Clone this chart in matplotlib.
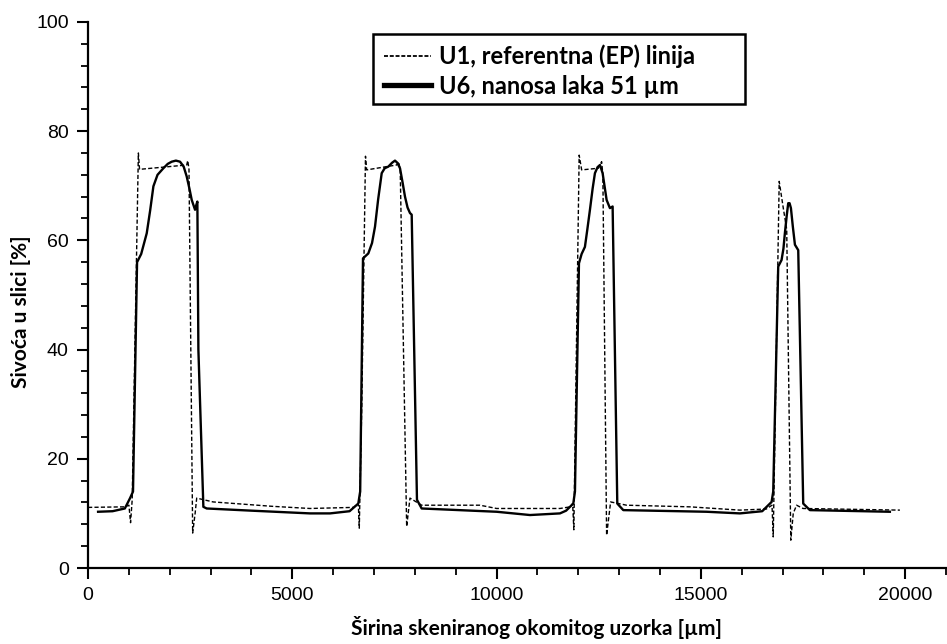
import matplotlib
matplotlib.use("Agg")
import matplotlib.pyplot as plt
from matplotlib.lines import Line2D
from matplotlib.patches import Rectangle
from matplotlib.ticker import MultipleLocator

# U1, referentna (EP) linija  (dashed)
x_u1 = [0, 900, 1000, 1040, 1080, 1231, 1260, 2414, 2440, 2470, 2560, 2620, 2659, 3059,
        4500, 5432, 6500, 6614, 6638, 6700, 6790, 6819, 7553, 7600, 7640, 7798, 7879, 8165,
        9592, 10000, 11550, 11800, 11860, 11890, 12020, 12081, 12488, 12570, 12600, 12692,
        12790, 13180, 14731, 15954, 16600, 16740, 16770, 16916, 17014, 17100, 17200, 17260,
        17341, 17500, 19870]
y_u1 = [11.1, 11.2, 11.5, 8.3, 12.5, 76.0, 73.0, 73.8, 74.6, 73.0, 6.4, 10.0, 12.8, 12.1,
        11.3, 10.9, 11.1, 11.8, 7.3, 30.0, 75.4, 72.9, 73.8, 74.4, 73.0, 7.6, 12.8, 11.5,
        11.5, 10.9, 10.9, 11.2, 11.8, 7.0, 75.6, 72.9, 73.2, 74.4, 72.0, 6.0,
        12.1, 11.5, 11.2, 10.6, 10.8, 11.5, 5.7, 70.8, 66.0, 62.0, 5.1, 10.0,
        11.5, 10.9, 10.6]

# U6, nanosa laka 51 um  (solid)
x_u6 = [245, 600, 900, 1028, 1100, 1199, 1300, 1436, 1520, 1599, 1700, 1843, 1950, 2047,
        2150, 2251, 2340, 2414, 2480, 2537, 2618, 2650, 2675, 2700, 2822, 2904, 4000, 5432,
        5922, 6400, 6614, 6660, 6729, 6859, 6950, 7023, 7100, 7187, 7260, 7349, 7440, 7512,
        7570, 7635, 7700, 7757, 7820, 7879, 7921, 8050, 8165, 10000, 10816, 11550, 11700,
        11876, 11917, 12015, 12080, 12161, 12220, 12284, 12350, 12406, 12470, 12529, 12594,
        12640, 12692, 12773, 12839, 12953, 13100, 15139, 15954, 16500, 16730, 16770, 16892,
        16974, 17020, 17055, 17100, 17137, 17170, 17203, 17250, 17301, 17382, 17504, 17667,
        19625]
y_u6 = [10.3, 10.4, 10.9, 12.8, 14.0, 56.0, 57.5, 61.3, 65.5, 69.9, 72.0, 73.2, 74.0, 74.4,
        74.6, 74.4, 73.5, 71.7, 69.5, 67.4, 65.6, 66.5, 67.1, 40.0, 11.2, 10.9, 10.5, 10.0,
        10.0, 10.4, 11.8, 14.0, 56.7, 57.6, 59.5, 62.5, 67.5, 72.3, 73.2, 73.5, 74.2, 74.6,
        74.2, 73.2, 70.5, 68.0, 66.0, 65.0, 64.7, 12.5, 10.9, 10.3, 9.7, 10.0, 10.5,
        11.8, 14.0, 55.8, 57.5, 58.8, 62.0, 65.6, 69.5, 72.3, 73.4, 73.8, 72.3,
        70.0, 67.4, 65.9, 66.2, 11.8, 10.6, 10.3, 10.0, 10.4, 12.1, 14.0, 55.2,
        56.4, 58.5, 61.3, 64.5, 66.8, 66.8, 65.9, 62.5, 59.2, 58.2, 11.8, 10.6,
        10.3]

label_u1 = "U1, referentna (EP) linija"
label_u6 = "U6, nanosa laka 51 \u00b5m"

fig = plt.figure(figsize=(9.47, 6.44), dpi=100)
ax = fig.add_axes([0.093, 0.118, 0.906, 0.848])

ax.plot(x_u1, y_u1, color="black", lw=1.0, linestyle=(0, (3, 1.6)))
ax.plot(x_u6, y_u6, color="black", lw=1.7)

ax.set_xlim(0, 21000)
ax.set_ylim(0, 100)
ax.xaxis.set_major_locator(MultipleLocator(5000))
ax.xaxis.set_minor_locator(MultipleLocator(1000))
ax.yaxis.set_major_locator(MultipleLocator(20))
ax.yaxis.set_minor_locator(MultipleLocator(4))

for s in ["top", "right"]:
    ax.spines[s].set_visible(False)
for s in ["left", "bottom"]:
    ax.spines[s].set_linewidth(1.6)

ax.tick_params(which="major", length=8, width=1.5, labelsize=14, pad=6)
ax.tick_params(which="minor", length=5, width=1.3)
for lab in ax.get_xticklabels() + ax.get_yticklabels():
    lab.set_family("Liberation Sans")

ax.set_xlabel("\u0160irina skeniranog okomitog uzorka [\u00b5m]", family="Lato",
              fontweight="bold", fontsize=15)
ax.xaxis.set_label_coords(0.523, -0.088)
ax.set_ylabel("Sivo\u0107a u slici [%]", family="Lato", fontweight="bold", fontsize=15)
ax.yaxis.set_label_coords(-0.066, 0.47)

# legend box (wider than its text, as in the original)
ax.add_patch(Rectangle((0.332, 0.85), 0.434, 0.128, transform=ax.transAxes,
                       facecolor="white", edgecolor="black", lw=1.8, zorder=4))
handles = [Line2D([], [], color="black", lw=1.3, linestyle=(0, (2.2, 1.0))),
           Line2D([], [], color="black", lw=3.8)]
leg = ax.legend(handles, [label_u1, label_u6], loc="upper left",
                bbox_to_anchor=(0.332, 0.978), frameon=False, handlelength=2.0,
                handletextpad=0.35, borderpad=0.45, labelspacing=0.28, borderaxespad=0,
                prop={"family": "Lato", "weight": "bold", "size": 17})
leg.set_zorder(5)

fig.savefig("out.png", dpi=100)
